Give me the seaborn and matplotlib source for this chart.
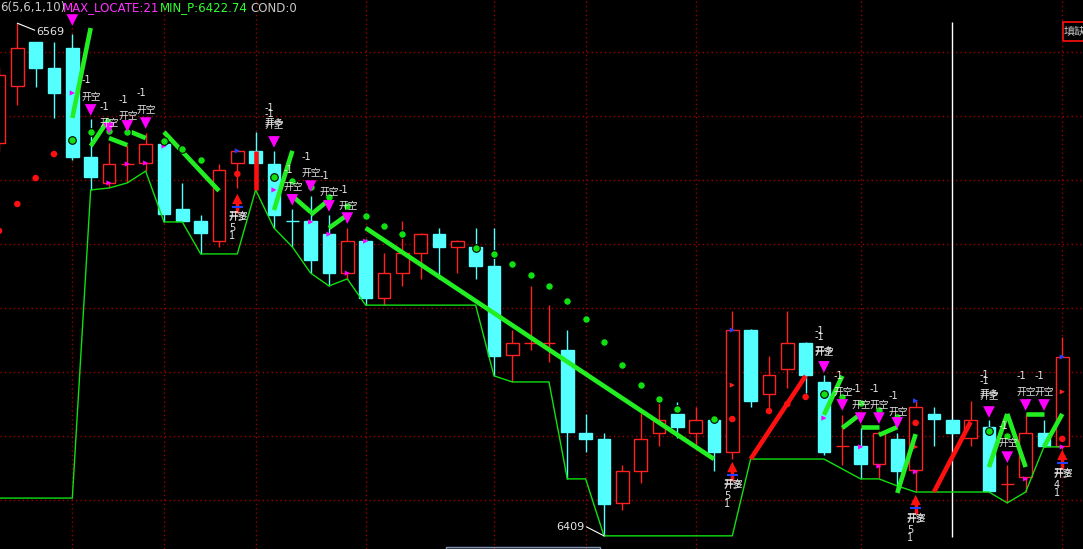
import numpy as np
import pandas as pd
import matplotlib
matplotlib.use("Agg")
import matplotlib.pyplot as plt
from matplotlib.patches import Rectangle
import seaborn as sns

sns.set_style("dark")
plt.rcParams['font.family'] = ['DejaVu Sans', 'Noto Sans CJK SC']

# candles, one per bar (bar 0 is cut at the left edge)
opens = [6531.6, 6549.4, 6563.1, 6555.0, 6561.2, 6527.2, 6519.1, 6525.0, 6525.3, 6531.2,
         6510.9, 6507.2, 6500.9, 6525.3, 6529.1, 6525.0, 6507.3, 6507.2, 6503.1, 6490.9,
         6500.9, 6483.1, 6490.9, 6497.2, 6503.1, 6499.1, 6499.1, 6493.1, 6465.3, 6469.1,
         6469.1, 6466.9, 6440.9, 6439.1, 6419.1, 6429.1, 6440.9, 6446.9, 6440.9, 6445.0,
         6435.0, 6473.1, 6453.1, 6460.9, 6469.1, 6456.9, 6436.9, 6436.9, 6431.2, 6439.1,
         6429.4, 6446.9, 6445.0, 6439.4, 6442.8, 6425.0, 6427.2, 6440.9, 6436.9]
highs = [6555.0, 6569.0, 6563.1, 6563.1, 6565.6, 6539.1, 6531.6, 6530.9, 6534.7, 6532.0,
         6519.1, 6509.1, 6525.0, 6529.4, 6535.0, 6529.1, 6510.9, 6515.0, 6509.1, 6505.0,
         6501.5, 6497.2, 6507.2, 6503.5, 6505.0, 6501.2, 6505.0, 6505.0, 6473.1, 6486.9,
         6480.9, 6473.1, 6446.9, 6440.9, 6430.9, 6447.2, 6450.3, 6450.6, 6449.1, 6445.3,
         6479.1, 6473.4, 6465.0, 6479.1, 6469.4, 6459.1, 6446.6, 6442.5, 6441.5, 6440.9,
         6450.9, 6449.1, 6445.2, 6450.9, 6445.0, 6430.9, 6447.2, 6445.0, 6470.9]
lows = [6529.0, 6543.4, 6549.1, 6539.4, 6526.2, 6516.9, 6517.5, 6519.4, 6522.8, 6506.9,
        6507.2, 6496.9, 6499.1, 6517.5, 6516.9, 6505.0, 6499.1, 6490.9, 6486.9, 6489.1,
        6480.9, 6480.9, 6486.9, 6489.1, 6489.1, 6490.9, 6489.1, 6458.8, 6456.9, 6466.9,
        6463.1, 6426.6, 6435.0, 6408.8, 6416.9, 6425.3, 6436.9, 6439.4, 6436.9, 6429.1,
        6432.8, 6449.1, 6448.8, 6455.0, 6453.4, 6434.1, 6430.9, 6426.6, 6426.9, 6422.5,
        6422.5, 6436.9, 6440.7, 6436.9, 6422.5, 6419.1, 6422.5, 6436.6, 6435.9]
closes = [6552.8, 6561.2, 6555.0, 6547.2, 6527.2, 6520.9, 6525.0, 6525.0, 6531.2, 6509.4,
          6507.2, 6503.4, 6523.1, 6529.1, 6525.3, 6509.1, 6507.2, 6495.0, 6490.9, 6500.9,
          6483.1, 6490.9, 6497.2, 6503.1, 6499.1, 6500.9, 6493.1, 6465.0, 6469.1, 6469.1,
          6469.1, 6441.2, 6439.1, 6418.8, 6429.1, 6439.1, 6445.0, 6442.8, 6445.0, 6435.0,
          6473.1, 6450.9, 6459.1, 6469.1, 6459.1, 6435.0, 6436.9, 6431.2, 6440.9, 6429.1,
          6449.1, 6445.3, 6440.9, 6445.0, 6422.8, 6425.0, 6440.9, 6436.9, 6464.7]

# thin green stop line
stop_line = [6420.6, 6420.6, 6420.6, 6420.6, 6420.6, 6516.9, 6517.5, 6519.1, 6522.8, 6506.9,
             6506.9, 6496.9, 6496.9, 6496.9, 6516.9, 6505.0, 6499.1, 6490.9, 6486.9, 6489.1,
             6480.9, 6480.9, 6480.9, 6480.9, 6480.9, 6480.9, 6480.9, 6458.8, 6456.9, 6456.9,
             6456.9, 6426.6, 6426.6, 6408.8, 6408.8, 6408.8, 6408.8, 6408.8, 6408.8, 6408.8,
             6408.8, 6432.8, 6432.8, 6432.8, 6432.8, 6432.8, 6429.7, 6426.6, 6426.6, 6424.4,
             6422.5, 6422.5, 6422.5, 6422.5, 6422.5, 6419.1, 6422.5, 6436.6, 6436.6]

# dots
green_dot_idx = [4, 5, 6, 7, 9, 10, 11, 15, 16, 17, 18, 19, 20, 21, 22, 26, 27, 28, 29, 30,
                 31, 32, 33, 34, 35, 36, 37, 39, 45, 46, 47, 48, 49, 54, 55]
green_dot_val = [6532.5, 6535.0, 6535.3, 6535.0, 6532.2, 6529.7, 6526.2, 6520.9, 6519.7, 6517.8,
                 6514.7, 6511.9, 6508.8, 6505.6, 6503.1, 6498.8, 6496.9, 6493.8, 6490.3, 6486.9,
                 6482.2, 6476.6, 6469.4, 6462.2, 6455.9, 6451.6, 6448.4, 6445.3, 6453.1, 6452.2,
                 6450.3, 6448.1, 6445.9, 6441.6, 6440.0]
red_dot_idx = [0, 1, 2, 3, 13, 40, 42, 43, 44, 50, 58]
red_dot_val = [6504.1, 6512.5, 6520.6, 6528.1, 6521.9, 6445.3, 6447.8, 6450.0, 6452.2, 6444.1, 6439.1]

# thick zig segments: start bar, start price, end bar, end price
green_segs = [(4, 6539.4, 5, 6567.5), (5, 6530.6, 6, 6539.1), (6, 6533.1, 7, 6530.9),
              (7.2, 6535.0, 8, 6533.1), (9, 6535.0, 12, 6516.6), (15, 6510.6, 16, 6529.1),
              (16, 6515.0, 17, 6510.0), (17, 6509.1, 18, 6513.8), (18, 6505.0, 19, 6509.1),
              (20, 6505.0, 39, 6432.8), (45, 6446.6, 46, 6458.8), (46, 6442.5, 47, 6446.9),
              (47, 6442.8, 48, 6442.8), (48, 6440.3, 49, 6442.8), (49, 6422.2, 50, 6440.6),
              (54, 6430.3, 55, 6446.9), (55, 6446.9, 56, 6430.3), (56, 6446.9, 57, 6446.9),
              (57, 6436.6, 58, 6446.9)]
red_segs = [(14, 6516.9, 14, 6529.1), (41, 6432.8, 44, 6458.8), (51, 6422.5, 53, 6444.4)]

# sell signals (triangle, 开空 label, -1 label)
sell_idx = [4, 5, 6, 7, 8, 15, 16, 17, 18, 19, 45, 46, 47, 48, 49, 54, 55, 56, 57]
sell_tri = [6570.0, 6541.9, 6536.2, 6536.9, 6537.8, 6531.9, 6513.8, 6518.1, 6511.9, 6508.1,
            6461.6, 6449.7, 6445.6, 6445.6, 6444.1, 6447.5, 6433.4, 6449.7, 6449.7]
sell_txt = [np.nan, 6545.9, 6537.8, 6540.0, 6541.9, 6537.2, 6517.8, 6522.2, 6516.2, 6511.9,
            6466.2, 6453.8, 6449.7, 6449.7, 6447.5, 6452.5, 6437.8, 6453.8, 6453.8]
sell_minus = [np.nan, 6551.2, 6542.8, 6545.0, 6547.2, 6542.5, 6523.1, 6527.2, 6521.2, 6516.9,
              6472.8, 6458.8, 6454.7, 6454.7, 6452.5, 6459.1, 6443.1, 6458.8, 6458.8]
double_sell = [15, 45, 54]

# buy signals
buy_idx = [13, 40, 50, 58]
buy_head = [6514.1, 6430.3, 6420.0, 6434.1]
buy_txt = [6508.4, 6424.7, 6414.1, 6428.1]
buy_num = ['5', '5', '5', '4']

# small markers inside candles
mag_idx = [4, 6, 7, 8, 9, 15, 17, 18, 19, 20, 45, 47, 48, 50, 56, 58]
mag_val = [6547.2, 6519.1, 6525.0, 6525.3, 6530.6, 6516.9, 6506.9, 6503.1, 6490.9, 6500.9,
           6445.6, 6436.6, 6430.6, 6428.8, 6426.6, 6436.6]
redmark_idx = [40, 50, 58]
redmark_val = [6455.9, 6436.6, 6453.8]
blue_idx = [13, 40, 50, 58]
blue_val = [6529.1, 6473.1, 6451.0, 6464.7]

grid_bars = [4, 9, 14, 20, 27, 32, 38, 47, 58]
grid_prices = [6420, 6440, 6460, 6480, 6500, 6520, 6540, 6560]
cursor_bar = 52

RED = '#FF2020'
CYAN = '#54FFFF'
GREEN = '#22EE22'
MAG = '#FF00FF'
GRID = '#9A0000'
LBL = '#E6E6E6'
CJK = ['Noto Sans CJK SC', 'DejaVu Sans']

df = pd.DataFrame({'o': opens, 'h': highs, 'l': lows, 'c': closes})
df['i'] = np.arange(len(df))
up = df['c'] >= df['o']

fig = plt.figure(figsize=(10.83, 5.49), dpi=100, facecolor='black')
ax = fig.add_axes([0, 0, 1, 1])
ax.set_facecolor('black')
ax.set_xlim(0.0545, 59.13)
ax.set_ylim(6404.69, 6576.25)
ax.axis('off')

dots = (0, (1, 2.2))
for p in grid_prices:
    ax.axhline(p, color=GRID, lw=1, ls=dots, zorder=0)
for b in grid_bars:
    ax.axvline(b, color=GRID, lw=1, ls=dots, zorder=0)

ax.vlines(cursor_bar, 6408.4, 6569.4, color='white', lw=1, zorder=1)

# candles
ax.vlines(df['i'], df['l'], df['h'], colors=np.where(up, RED, CYAN), lw=1, zorder=2)
ax.bar(df['i'], (df['c'] - df['o']).abs(), bottom=df[['o', 'c']].min(axis=1), width=0.68,
       color=np.where(up, 'black', CYAN), edgecolor=np.where(up, RED, CYAN), linewidth=1, zorder=3)

sns.lineplot(x=df['i'], y=stop_line, ax=ax, color='#10E010', lw=1, zorder=4)

for i0, p0, i1, p1 in green_segs:
    ax.plot([i0, i1], [p0, p1], color=GREEN, lw=3.3, solid_capstyle='butt', zorder=5)
for i0, p0, i1, p1 in red_segs:
    ax.plot([i0, i1], [p0, p1], color='#FF1010', lw=3.3, solid_capstyle='butt', zorder=5)

sns.scatterplot(x=mag_idx, y=mag_val, marker='>', s=14, color=MAG, edgecolor='none', ax=ax, zorder=4)
sns.scatterplot(x=redmark_idx, y=redmark_val, marker='>', s=14, color=RED, edgecolor='none', ax=ax, zorder=4)
sns.scatterplot(x=blue_idx, y=blue_val, marker='>', s=14, color='#2040FF', edgecolor='none', ax=ax, zorder=4)

sns.scatterplot(x=green_dot_idx, y=green_dot_val, s=30, color='#10E010', edgecolor='black',
                linewidth=0.8, ax=ax, zorder=6)
sns.scatterplot(x=red_dot_idx, y=red_dot_val, s=22, color='#FF1010', edgecolor='none', ax=ax, zorder=6)

# sell signals
sns.scatterplot(x=sell_idx, y=sell_tri, marker='v', s=70, color=MAG, edgecolor='none', ax=ax, zorder=6)
for i, t, m in zip(sell_idx, sell_txt, sell_minus):
    if np.isnan(t):
        continue
    if i in double_sell:
        ax.text(i - 0.5, t + 0.5, '开多', fontsize=7, color=LBL, family=CJK, va='center', ha='left', zorder=7)
        ax.text(i - 0.5, m - 2.0, '-1', fontsize=7, color=LBL, va='center', ha='left', zorder=7)
    ax.text(i - 0.5, t, '开空', fontsize=7, color=LBL, family=CJK, va='center', ha='left', zorder=7)
    ax.text(i - 0.5, m, '-1', fontsize=7, color=LBL, va='center', ha='left', zorder=7)

# buy signals
for i, h, t, n in zip(buy_idx, buy_head, buy_txt, buy_num):
    ax.vlines(i, h - 4.3, h - 1.0, color='#FF1010', lw=2.5, zorder=6)
    ax.hlines(h - 2.4, i - 0.3, i + 0.3, color='#2040FF', lw=1.5, zorder=6)
    ax.text(i - 0.5, t + 0.4, '开空', fontsize=7, color=LBL, family=CJK, va='center', ha='left', zorder=7)
    ax.text(i - 0.5, t, '开多', fontsize=7, color=LBL, family=CJK, va='center', ha='left', zorder=7)
    ax.text(i - 0.45, t - 3.4, n, fontsize=7, color=LBL, va='center', ha='left', zorder=7)
    ax.text(i - 0.45, t - 5.9, '1', fontsize=7, color=LBL, va='center', ha='left', zorder=7)
sns.scatterplot(x=buy_idx, y=buy_head, marker='^', s=55, color='#FF1010', edgecolor='none', ax=ax, zorder=6)

# max / min labels
imax = int(np.argmax(highs))
imin = int(np.argmin(lows))
ax.plot([imax, imax + 0.95], [highs[imax], highs[imax] - 2.2], color='white', lw=0.8, zorder=7)
ax.text(imax + 1.05, highs[imax] - 2.8, f"{highs[imax]:.0f}", fontsize=8, color=LBL,
        va='center', ha='left', zorder=7)
ax.plot([imin, imin - 0.95], [lows[imin], lows[imin] + 2.8], color='white', lw=0.8, zorder=7)
ax.text(imin - 1.05, lows[imin] + 2.8, f"{lows[imin]:.0f}", fontsize=8, color=LBL,
        va='center', ha='right', zorder=7)

# header line
W, H = 1083, 549
fig.text(0 / W, 1 - 8 / H, '6(5,6,1,10)', fontsize=8.5, color='#C8C8C8', va='center', ha='left')
fig.text(63 / W, 1 - 8 / H, 'MAX_LOCATE:21', fontsize=8.5, color='#FF33FF', va='center', ha='left')
fig.text(160 / W, 1 - 8 / H, 'MIN_P:6422.74', fontsize=8.5, color='#33FF33', va='center', ha='left')
fig.text(250 / W, 1 - 8 / H, 'COND:0', fontsize=8.5, color='#C8C8C8', va='center', ha='left')

# top-right button and bottom scroll bar
fig.patches.append(Rectangle((1062.5 / W, 1 - 41 / H), 25 / W, 19 / H, transform=fig.transFigure,
                             fill=False, edgecolor='#FF1010', lw=1.2))
fig.text(1064 / W, 1 - 31.5 / H, '填缺', fontsize=8, color='#C8C8C8', family=CJK, va='center', ha='left')
fig.patches.append(Rectangle((446 / W, 0), 154 / W, 2.5 / H, transform=fig.transFigure,
                             fill=False, edgecolor='#8090B0', lw=1))

fig.savefig('out.png', dpi=100, facecolor='black')
